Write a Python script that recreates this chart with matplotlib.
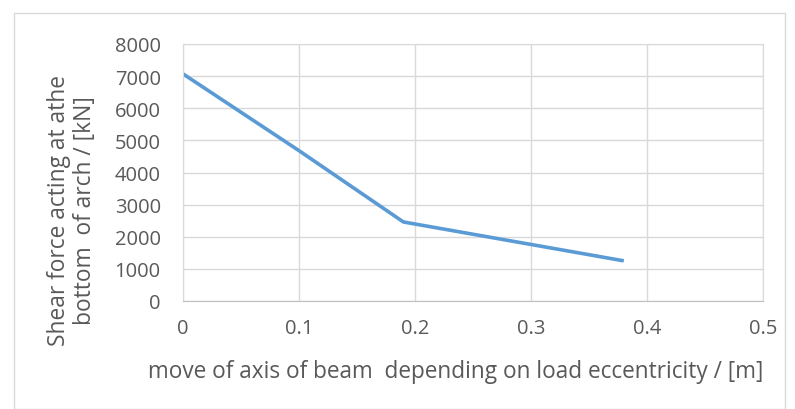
import matplotlib
matplotlib.use("Agg")
import matplotlib.pyplot as plt
from matplotlib.patches import Rectangle

# Load eccentricity shift [m] vs shear force at arch base [kN]
shift_m = [0.0, 0.1, 0.19, 0.3, 0.38]
shear_kN = [7070, 4680, 2460, 1760, 1250]

x_ticks = [0, 0.1, 0.2, 0.3, 0.4, 0.5]
y_ticks = [0, 1000, 2000, 3000, 4000, 5000, 6000, 7000, 8000]

plt.rcParams['font.family'] = ['Open Sans', 'DejaVu Sans']
text_color = '#595959'
grid_color = '#D9D9D9'
line_color = '#5B9BD5'

W, H = 795, 410
fig = plt.figure(figsize=(W / 100, H / 100), dpi=100)
fig.patch.set_facecolor('white')

# chart frame
fig.add_artist(Rectangle((14 / W, 0), (785 - 14) / W, (H - 14) / H,
                         transform=fig.transFigure, fill=False,
                         edgecolor='#D9D9D9', linewidth=1))

left, right, top, bottom = 183, 763, 45, 302
ax = fig.add_axes([left / W, 1 - bottom / H, (right - left) / W, (bottom - top) / H])

ax.plot(shift_m, shear_kN, color=line_color, linewidth=2.6, solid_capstyle='butt')

ax.set_xlim(0, 0.5)
ax.set_ylim(0, 8000)
ax.set_xticks(x_ticks)
ax.set_xticklabels([f'{v:g}' for v in x_ticks])
ax.set_yticks(y_ticks)
ax.grid(True, color=grid_color, linewidth=1)
ax.set_axisbelow(True)
for side in ['top', 'right', 'left']:
    ax.spines[side].set_color(grid_color)
ax.spines['bottom'].set_color('#BFBFBF')
ax.tick_params(length=0, labelsize=14.5, labelcolor=text_color)
ax.tick_params(axis='x', pad=12)
ax.tick_params(axis='y', pad=16)

fig.text(456 / W, 1 - 372 / H,
         'move of axis of beam  depending on load eccentricity / [m]',
         ha='center', va='center', fontsize=16.3, color=text_color)
fig.text(72 / W, 1 - 211 / H, 'Shear force acting at athe\nbottom  of arch / [kN]',
         rotation=90, ha='center', va='center', fontsize=16.4,
         color=text_color, linespacing=1.15)

fig.savefig('out.png', dpi=100)
